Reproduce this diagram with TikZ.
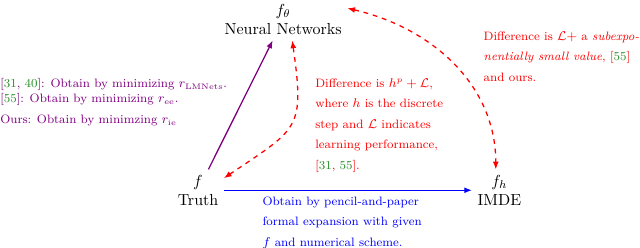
\documentclass[tikz,border=0pt]{standalone}
\usepackage{amsmath}
\usepackage{amssymb}
\usepackage{xcolor}
\usepackage{tikz}
\usetikzlibrary{positioning,arrows.meta}
\definecolor{citegreen}{rgb}{0.15,0.55,0.15}
\newcommand{\refnum}[1]{{\color{citegreen}#1}}

\begin{document}
\begin{tikzpicture}[
    every node/.style={align=center},
    note/.style={font=\fontsize{7.6pt}{12.8pt}\selectfont,align=left,inner sep=0pt,anchor=north west},
    link/.style={-{Latex[length=1.7mm,width=1.3mm]},thick},
    both/.style={{Latex[length=1.7mm,width=1.3mm]}-{Latex[length=1.7mm,width=1.3mm]},thick,dashed,red}
  ]
  \useasboundingbox (0,0) rectangle (14.06,5.43);
  \node (nn)    at (6.22,5.00) {$f_\theta$\\Neural Networks};
  \node (truth) at (4.35,1.25) {$f$\\Truth};
  \node[right=5.45cm of truth] (imde) {$f_h$\\IMDE};
  \node[note,font=\fontsize{7.6pt}{9.4pt}\selectfont,text=violet] (fit) at (0,3.71) {[\refnum{31}, \refnum{40}]: Obtain by minimizing $r_{\mathrm{LMNets}}$.\\{}[\refnum{55}]: Obtain by minimizing $r_{\mathrm{ee}}$.\\[3.5pt]Ours: Obtain by minimzing $r_{\mathrm{ie}}$};
  \node[note,text=red] (dlearn) at (6.92,3.71) {Difference is $h^p+\mathcal{L}$,\\where $h$ is the discrete\\step and $\mathcal{L}$ indicates\\learning performance,\\{}[\refnum{31}, \refnum{55}].};
  \node[note,text=red] (dsub) at (10.62,4.74) {Difference is $\mathcal{L}+$ a \emph{subexpo-}\\\emph{nentially small value}, [\refnum{55}]\\and ours.};
  \node[note,text=blue] (expand) at (5.76,1.12) {Obtain by pencil-and-paper\\formal expansion with given\\$f$ and numerical scheme.};
  \draw[link,violet] (truth) -- (nn);
  \draw[link,blue] (truth) -- (imde);
  \draw[both] ([xshift=0.2cm]nn.south) to[out=-82,in=34,looseness=1.5] (truth.25);
  \draw[both] (nn.10) to[out=-13,in=90] ([xshift=-0.08cm]imde.north);
\end{tikzpicture}
\end{document}
